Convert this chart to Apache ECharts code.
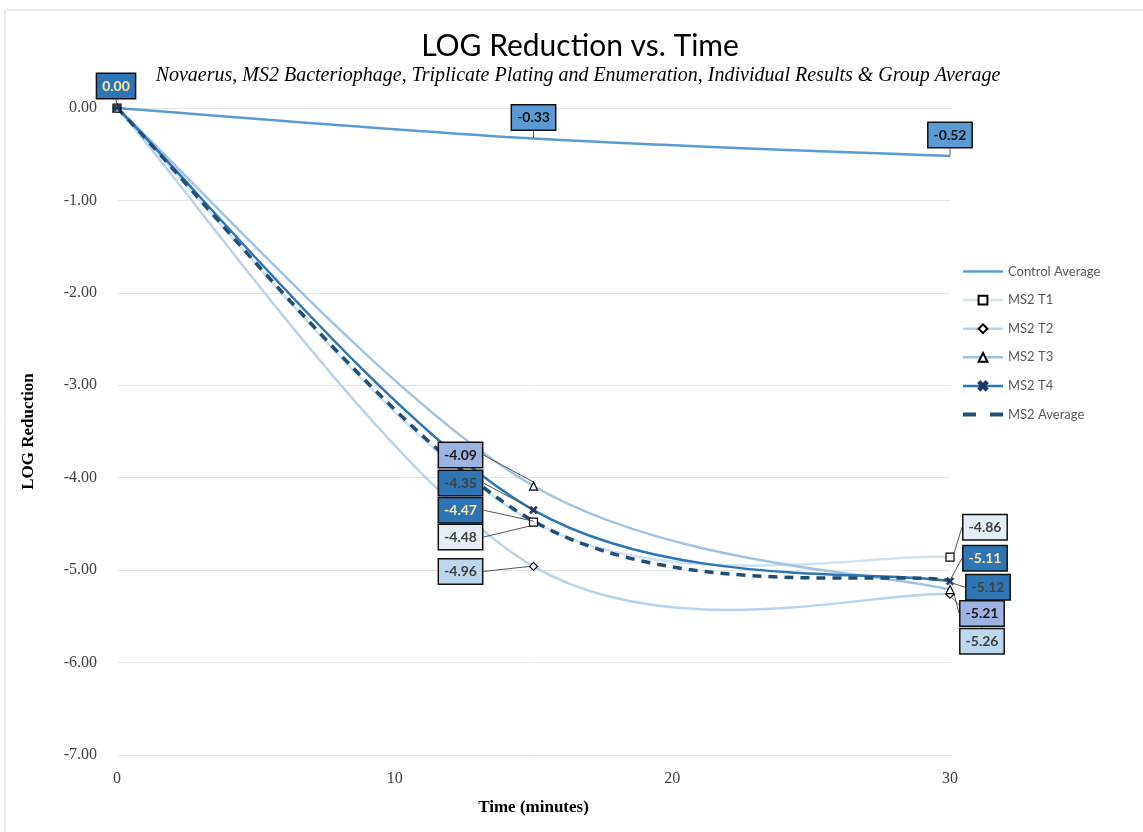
<!DOCTYPE html>
<html><head><meta charset="utf-8">
<script src="https://cdn.jsdelivr.net/npm/echarts@6/dist/echarts.min.js"></script>
<style>html,body{margin:0;padding:0;background:#fff}#c{width:1143px;height:832px}</style>
</head><body><div id="c"></div>
<script>
var times = [0, 15, 30];
var controlAvg = [0, -0.33, -0.52];
var ms2T1 = [0, -4.48, -4.86];
var ms2T2 = [0, -4.96, -5.26];
var ms2T3 = [0, -4.09, -5.21];
var ms2T4 = [0, -4.35, -5.12];
var ms2Avg = [0, -4.47, -5.11];
var xTicks = [0, 10, 20, 30];
var seriesNames = ['Control Average', 'MS2 T1', 'MS2 T2', 'MS2 T3', 'MS2 T4', 'MS2 Average'];

var chart = echarts.init(document.getElementById('c'));

var labStyle = {
  'Control Average': ['#5B9BD5', '#111111'],
  'MS2 T1': ['#E4EDF8', '#404040'],
  'MS2 T2': ['#BDD7EE', '#404040'],
  'MS2 T3': ['#9DB3E2', '#1a1a1a'],
  'MS2 T4': ['#2E75B6', '#404040'],
  'MS2 Average': ['#2E75B6', '#FFE699']
};
var labOff = {
  'Control Average': [null, [0, -21], [0, -21]],
  'MS2 T1': [null, [-73, 15], [35, -30]],
  'MS2 T2': [null, [-73, 5], [32, 47]],
  'MS2 T3': [null, [-73, -31], [32, 24]],
  'MS2 T4': [null, [-73, -27], [38, 6]],
  'MS2 Average': [[-1, -22], [-73, -11], [35, -22]]
};

// Excel-style smoothed curve (Catmull-Rom -> Bezier) drawn through the axis scales
function curveSeries(vals, color, width, dash, z) {
  return {
    type: 'custom', silent: true, z: z, clip: false,
    data: vals.map(function (v, i) { return [times[i], v]; }),
    encode: { x: 0, y: 1 },
    renderItem: function (params, api) {
      if (params.dataIndex !== 0) return null;
      var P = vals.map(function (v, i) { return api.coord([times[i], v]); });
      var n = P.length;
      var d = 'M' + P[0][0] + ' ' + P[0][1];
      for (var i = 0; i < n - 1; i++) {
        var p0 = P[Math.max(i - 1, 0)], p1 = P[i], p2 = P[i + 1], p3 = P[Math.min(i + 2, n - 1)];
        var c1 = [p1[0] + (p2[0] - p0[0]) / 6, p1[1] + (p2[1] - p0[1]) / 6];
        var c2 = [p2[0] - (p3[0] - p1[0]) / 6, p2[1] - (p3[1] - p1[1]) / 6];
        d += ' C' + c1[0] + ' ' + c1[1] + ' ' + c2[0] + ' ' + c2[1] + ' ' + p2[0] + ' ' + p2[1];
      }
      return {
        type: 'path', shape: { pathData: d },
        style: { fill: null, stroke: color, lineWidth: width, lineDash: dash || null, lineCap: 'butt' }
      };
    }
  };
}

function mk(name, vals, symbol, size, itemStyle, z) {
  var data = vals.map(function (v, i) {
    return { value: [times[i], v], label: { show: !!labOff[name][i] } };
  });
  return {
    name: name, type: 'line', data: data, z: z,
    symbol: symbol, symbolSize: size, showSymbol: true,
    lineStyle: { opacity: 0, width: 0 },
    itemStyle: itemStyle,
    label: {
      show: true, position: 'inside',
      formatter: function (p) { return p.value[1].toFixed(2); },
      backgroundColor: labStyle[name][0], color: labStyle[name][1],
      borderColor: '#111', borderWidth: 1.5, padding: [6, 5, 4, 5],
      fontFamily: 'Lato', fontWeight: 'bold', fontSize: 14, opacity: 1
    },
    labelLine: { show: true, lineStyle: { color: '#555', width: 1 } },
    labelLayout: function (p) {
      var o = labOff[name][p.dataIndex];
      return o ? { dx: o[0], dy: o[1] } : {};
    },
    emphasis: { disabled: true }
  };
}

var xPath = 'path://M0,2 L2,0 L5,3 L8,0 L10,2 L7,5 L10,8 L8,10 L5,7 L2,10 L0,8 L3,5 Z';
var openMark = { color: '#ffffff', borderColor: '#000', borderWidth: 1.2 };

var lineCols = {
  'Control Average': '#5B9BD5', 'MS2 T1': '#D0E1F3', 'MS2 T2': '#B7D3EE',
  'MS2 T3': '#9DC3E6', 'MS2 T4': '#2E75B6', 'MS2 Average': '#1F4E79'
};

var series = [
  curveSeries(controlAvg, lineCols['Control Average'], 2.5, null, 1),
  curveSeries(ms2T1, lineCols['MS2 T1'], 2.5, null, 1),
  curveSeries(ms2T2, lineCols['MS2 T2'], 2.5, null, 1),
  curveSeries(ms2T3, lineCols['MS2 T3'], 2.5, null, 1),
  curveSeries(ms2T4, lineCols['MS2 T4'], 2.5, null, 1),
  curveSeries(ms2Avg, lineCols['MS2 Average'], 3.5, [9, 7], 2),
  mk('Control Average', controlAvg, 'circle', 1, { color: '#5B9BD5' }, 3),
  mk('MS2 T1', ms2T1, 'rect', 8, openMark, 4),
  mk('MS2 T2', ms2T2, 'diamond', 8, openMark, 4),
  mk('MS2 T3', ms2T3, 'triangle', 8, openMark, 4),
  mk('MS2 T4', ms2T4, xPath, 8, { color: '#1F3864', borderColor: '#1F3864', borderWidth: 0.5 }, 4),
  mk('MS2 Average', ms2Avg, 'circle', 1, { color: '#1F4E79' }, 5)
];

var legendData = seriesNames.map(function (n) {
  var it = { name: n, lineStyle: { opacity: 1, color: lineCols[n], width: n === 'MS2 Average' ? 4 : 2.5 } };
  if (n === 'MS2 Average') it.lineStyle.type = [13, 14];
  if (n === 'Control Average' || n === 'MS2 Average') it.itemStyle = { opacity: 0 };
  return it;
});

chart.setOption({
  animation: false,
  backgroundColor: '#fff',
  graphic: [
    { type: 'rect', shape: { x: 5, y: 10, width: 1150, height: 830 }, style: { fill: 'none', stroke: '#D9D9D9', lineWidth: 1 }, silent: true },
    { type: 'text', x: 580, y: 31, style: { text: 'LOG Reduction vs. Time', font: '30px Lato', fill: '#000', align: 'center' } },
    { type: 'text', x: 578, y: 66, style: { text: 'Novaerus, MS2 Bacteriophage, Triplicate Plating and Enumeration, Individual Results & Group Average', font: 'italic 20px "Liberation Serif"', fill: '#000', align: 'center' } }
  ],
  grid: { left: 117, right: 193, top: 108, bottom: 77 },
  legend: {
    orient: 'vertical', left: 956, top: 260, itemGap: 15.6, itemWidth: 40, itemHeight: 11,
    data: legendData,
    textStyle: { fontFamily: 'Lato', fontSize: 13, color: '#595959' }
  },
  xAxis: {
    type: 'value', min: 0, max: 30, interval: 10,
    name: 'Time (minutes)', nameLocation: 'middle', nameGap: 44,
    nameTextStyle: { fontFamily: 'Liberation Serif', fontWeight: 'bold', fontSize: 17, color: '#000' },
    axisLine: { show: false }, axisTick: { show: false }, splitLine: { show: false },
    axisLabel: { fontFamily: 'Liberation Serif', fontSize: 16, color: '#404040', margin: 16 }
  },
  yAxis: {
    type: 'value', min: -7, max: 0, interval: 1,
    name: 'LOG Reduction', nameLocation: 'middle', nameGap: 80, nameRotate: 90,
    nameTextStyle: { fontFamily: 'Liberation Serif', fontWeight: 'bold', fontSize: 17, color: '#000' },
    axisLine: { show: false }, axisTick: { show: false },
    splitLine: { lineStyle: { color: '#E4E4E4', width: 1 } },
    axisLabel: { fontFamily: 'Liberation Serif', fontSize: 16, color: '#404040', margin: 20, formatter: function (v) { return v.toFixed(2); } }
  },
  series: series
});
</script></body></html>
